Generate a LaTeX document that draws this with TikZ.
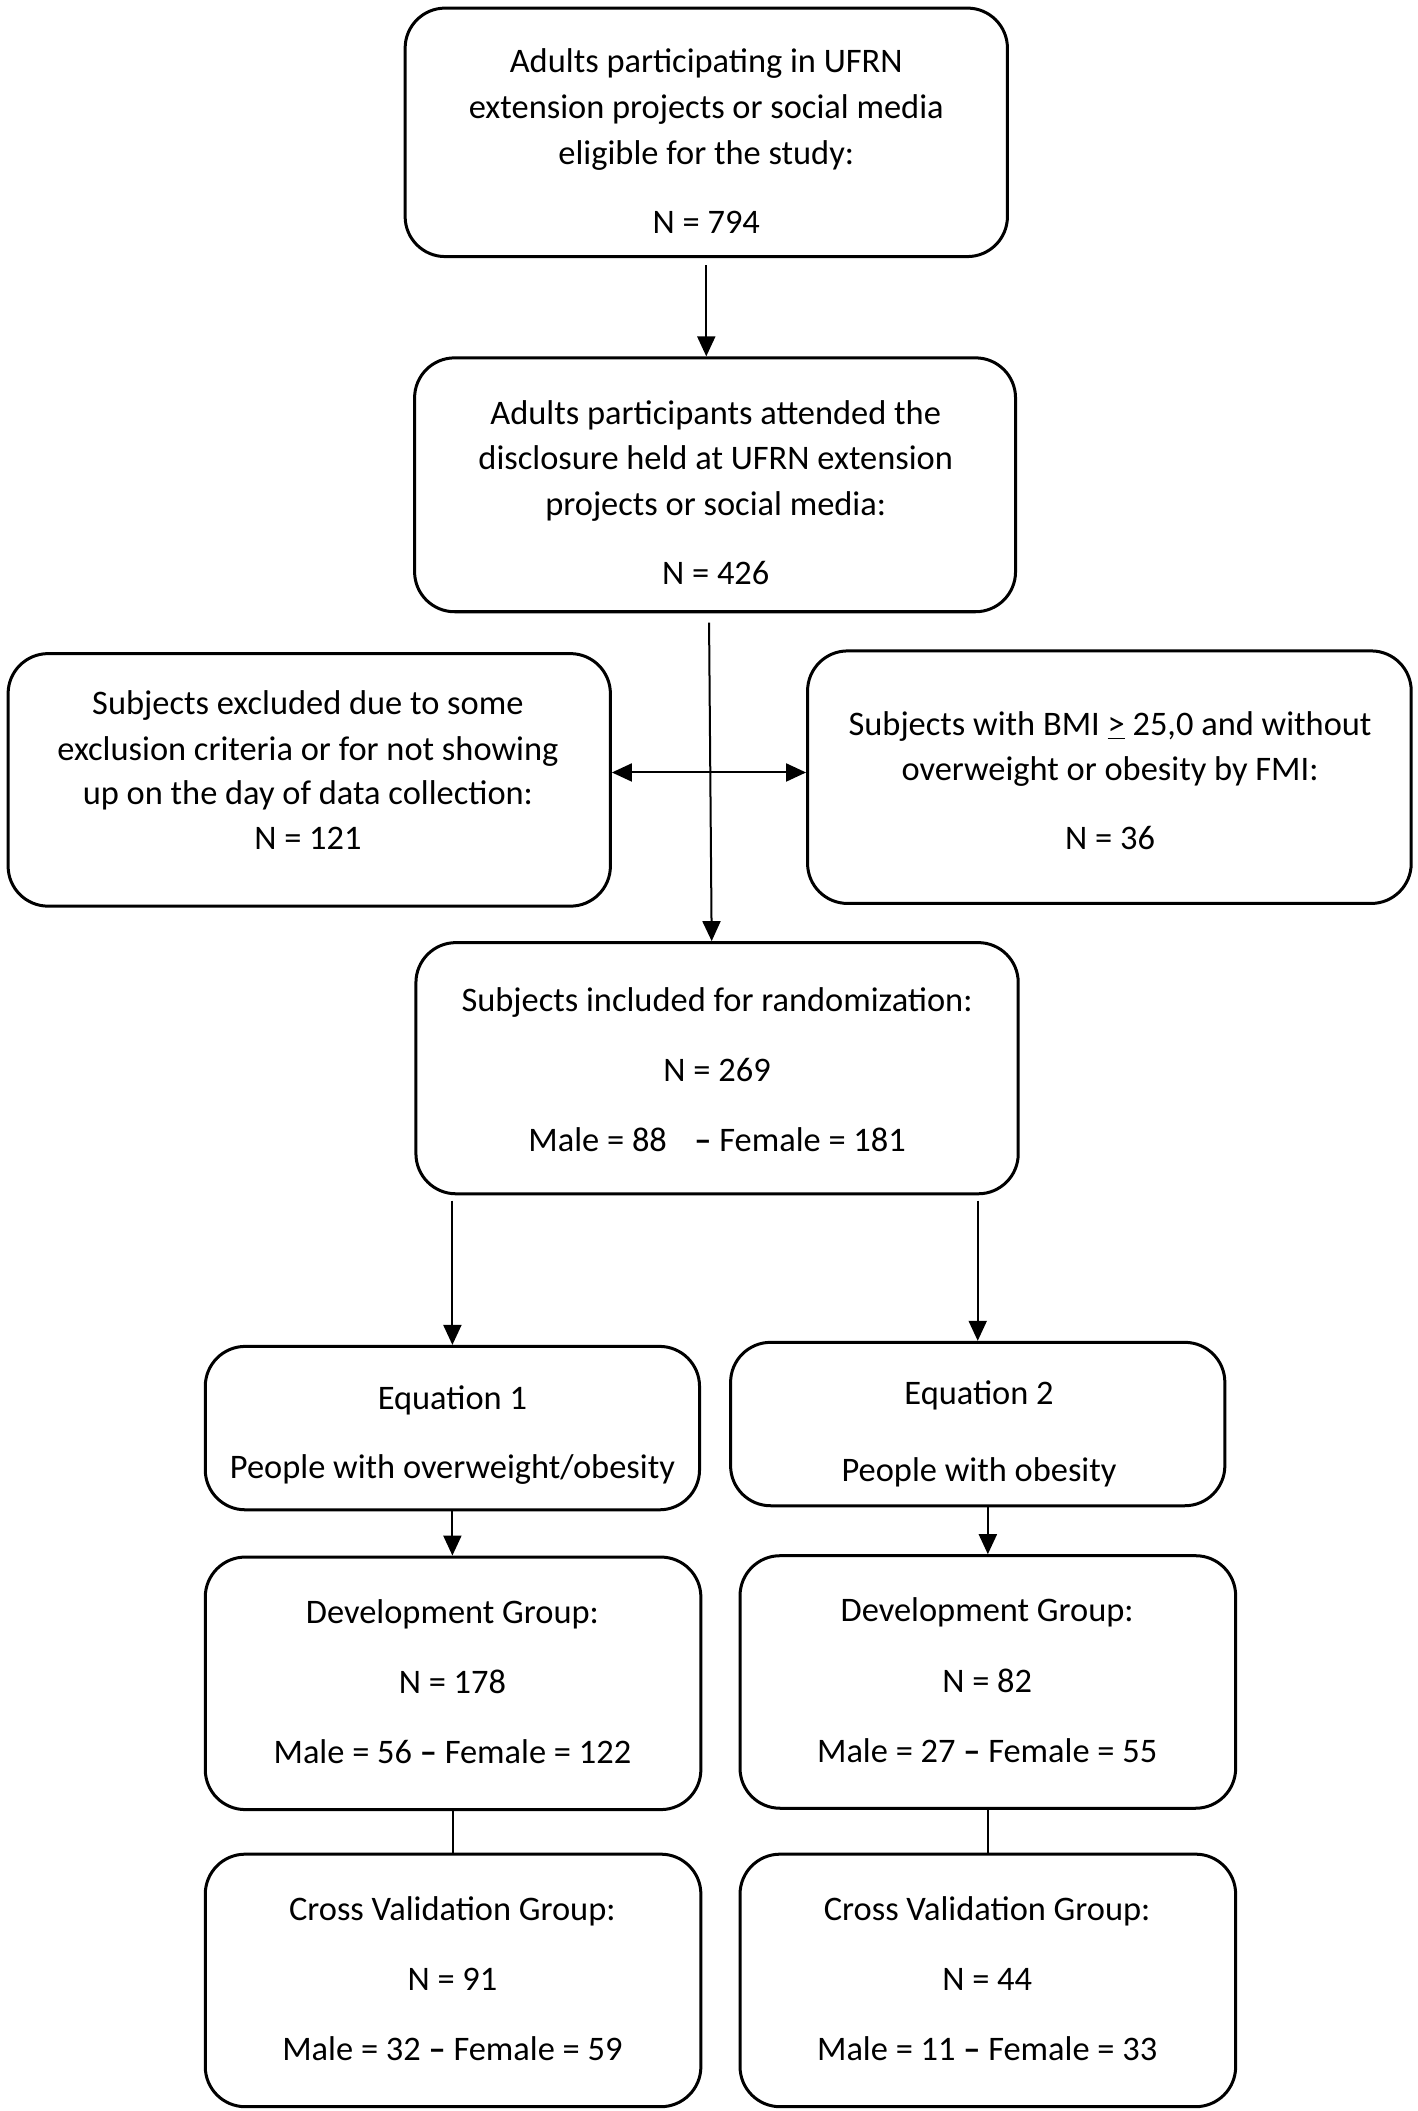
\documentclass[tikz,border=0pt]{standalone}
\usepackage{fontspec}
\setmainfont{Carlito}
\usetikzlibrary{fit,arrows.meta}
\tikzset{
  box/.style={draw=black, line width=1.5pt, rounded corners=20pt, inner sep=0pt},
  txt/.style={anchor=base, inner sep=0pt, font=\fontsize{17.2}{20}\selectfont},
  arr/.style={line width=1pt, -{Triangle[length=10pt,width=9pt]}},
  darr/.style={line width=1pt, {Triangle[length=10pt,width=9pt]}-{Triangle[length=10pt,width=9pt]}},
  ln/.style={line width=1pt}
}
\begin{document}
\begin{tikzpicture}[x=0.675pt,y=-0.675pt]
\useasboundingbox (0,0) rectangle (1050,1563.2);
% boxes
\node[box, fit={(300,6) (746,190)}] (top) {};
\node[box, fit={(307,265) (752,453)}] (att) {};
\node[box, fit={(6,484) (452,671)}] (exc) {};
\node[box, fit={(598,482) (1045,669)}] (bmi) {};
\node[box, fit={(308,698) (754,884)}] (rand) {};
\node[box, fit={(152,997) (518,1118)}] (eq1) {};
\node[box, fit={(541,994) (907,1115)}] (eq2) {};
\node[box, fit={(152,1153) (519,1340)}] (dev1) {};
\node[box, fit={(548,1152) (915,1339)}] (dev2) {};
\node[box, fit={(152,1373) (519,1560)}] (cv1) {};
\node[box, fit={(548,1373) (915,1560)}] (cv2) {};
% texts
\node[txt] (top1) at (523,54) {Adults participating in UFRN};
\node[txt] (top2) at (523,88) {extension projects or social media};
\node[txt] (top3) at (523,122) {eligible for the study:};
\node[txt] (top4) at (523,173) {N = 794};
\node[txt] (att1) at (530,314) {Adults participants attended the};
\node[txt] (att2) at (530,348) {disclosure held at UFRN extension};
\node[txt] (att3) at (530,382) {projects or social media:};
\node[txt] (att4) at (530,433) {N = 426};
\node[txt] (exc1) at (228,529) {Subjects excluded due to some};
\node[txt] (exc2) at (228,563) {exclusion criteria or for not showing};
\node[txt] (exc3) at (228,596) {up on the day of data collection:};
\node[txt] (exc4) at (228,629) {N = 121};
\node[txt] (bmi1) at (822,545) {Subjects with BMI \underline{>} 25,0 and without};
\node[txt] (bmi2) at (822,578) {overweight or obesity by FMI:};
\node[txt] (bmi3) at (822,629) {N = 36};
\node[txt] (rand1) at (531,749) {Subjects included for randomization:};
\node[txt] (rand2) at (531,801) {N = 269};
\node[txt] (rand3) at (531,853) {Male = 88\hspace{0.8em}\textbf{–} Female = 181};
\node[txt] (eq1a) at (335,1044) {Equation 1};
\node[txt] (eq1b) at (335,1095) {People with overweight/obesity};
\node[txt] (eq2a) at (725,1040) {Equation 2};
\node[txt] (eq2b) at (725,1097) {People with obesity};
\node[txt] (dev1a) at (335,1202) {Development Group:};
\node[txt] (dev1b) at (335,1254) {N = 178};
\node[txt] (dev1c) at (335,1306) {Male = 56 \textbf{–} Female = 122};
\node[txt] (dev2a) at (731,1201) {Development Group:};
\node[txt] (dev2b) at (731,1253) {N = 82};
\node[txt] (dev2c) at (731,1305) {Male = 27 \textbf{–} Female = 55};
\node[txt] (cv1a) at (335,1422) {Cross Validation Group:};
\node[txt] (cv1b) at (335,1474) {N = 91};
\node[txt] (cv1c) at (335,1526) {Male = 32 \textbf{–} Female = 59};
\node[txt] (cv2a) at (731,1422) {Cross Validation Group:};
\node[txt] (cv2b) at (731,1474) {N = 44};
\node[txt] (cv2c) at (731,1526) {Male = 11 \textbf{–} Female = 33};
% connectors
\draw[arr] ([yshift=-3.5pt]top.south) -- (top.south |- att.north);
\draw[arr] ([xshift=-3pt,yshift=-4.7pt]att.south) -- ([xshift=-2.7pt]rand.north);
\draw[darr] ([yshift=3.7pt]exc.east) -- ([yshift=3.7pt]exc.east -| bmi.west);
\draw[arr] (eq1.north |- rand.south) ++(0,4) -- (eq1.north);
\draw[arr] (eq2.north |- rand.south) ++(0,4) -- (eq2.north);
\draw[arr] (eq1.south) -- (eq1.south |- dev1.north);
\draw[arr] (dev2.north |- eq2.south) -- (dev2.north);
\draw[ln] (dev1.south) -- (cv1.north);
\draw[ln] (dev2.south) -- (cv2.north);
\end{tikzpicture}
\end{document}
